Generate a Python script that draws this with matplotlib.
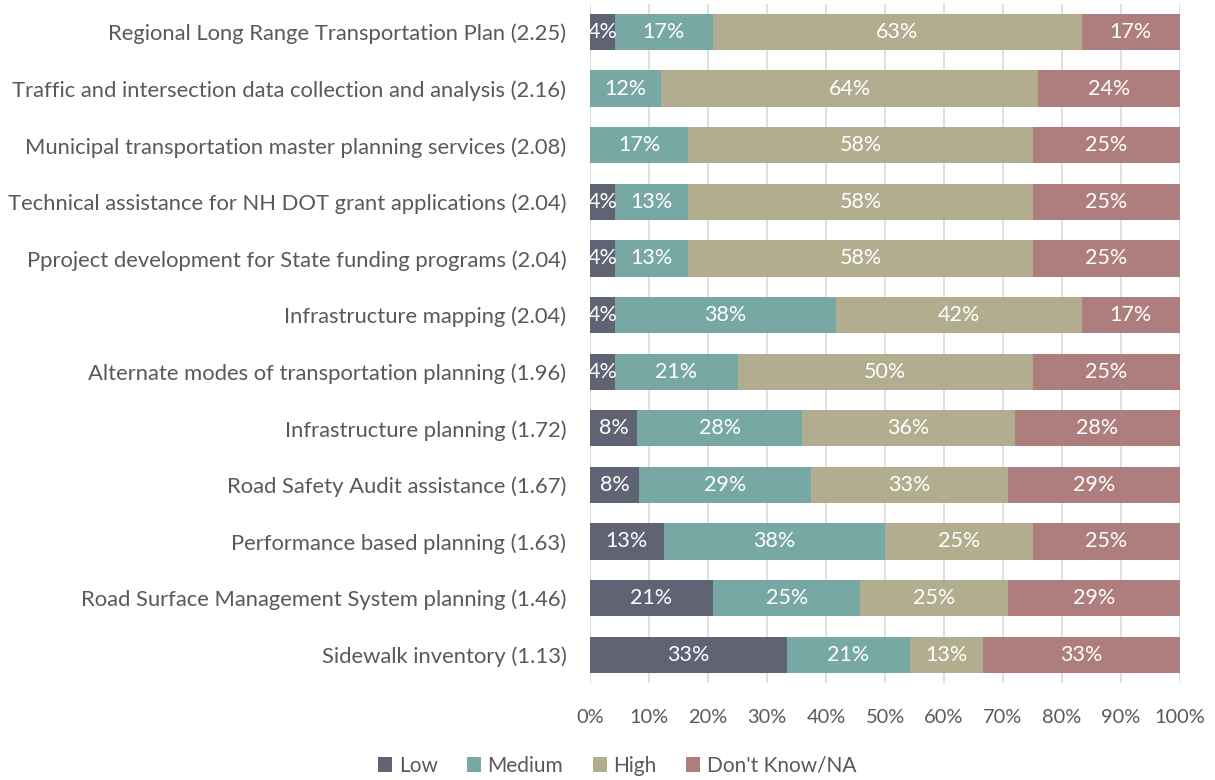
import matplotlib
matplotlib.use("Agg")
import matplotlib.pyplot as plt
import numpy as np

categories = [
    "Regional Long Range Transportation Plan (2.25)",
    "Traffic and intersection data collection and analysis (2.16)",
    "Municipal transportation master planning services (2.08)",
    "Technical assistance for NH DOT grant applications (2.04)",
    "Pproject development for State funding programs (2.04)",
    "Infrastructure mapping (2.04)",
    "Alternate modes of transportation planning (1.96)",
    "Infrastructure planning (1.72)",
    "Road Safety Audit assistance (1.67)",
    "Performance based planning (1.63)",
    "Road Surface Management System planning (1.46)",
    "Sidewalk inventory (1.13)",
]
low = [4.17, 0.0, 0.0, 4.17, 4.17, 4.17, 4.17, 8.0, 8.33, 12.5, 20.83, 33.33]
medium = [16.67, 12.0, 16.67, 12.5, 12.5, 37.5, 20.83, 28.0, 29.17, 37.5, 25.0, 20.83]
high = [62.5, 64.0, 58.33, 58.33, 58.33, 41.67, 50.0, 36.0, 33.33, 25.0, 25.0, 12.5]
dont_know = [16.67, 24.0, 25.0, 25.0, 25.0, 16.67, 25.0, 28.0, 29.17, 25.0, 29.17, 33.33]
series_names = ["Low", "Medium", "High", "Don't Know/NA"]
xticks = [0, 10, 20, 30, 40, 50, 60, 70, 80, 90, 100]

colors = ["#5f6373", "#78a8a3", "#b1ad8e", "#ae7e7e"]
text_color = "#595959"
plt.rcParams['font.family'] = ['Lato', 'DejaVu Sans']

fig = plt.figure(figsize=(12.15, 7.8), dpi=100)
ax = fig.add_axes([590/1215, 1 - 683/780, (1180-590)/1215, (683-3.7)/780])

y = np.arange(len(categories))
left = np.zeros(len(categories))
for name, vals, c in zip(series_names, [low, medium, high, dont_know], colors):
    vals = np.array(vals)
    ax.barh(y, vals, left=left, height=0.64, color=c, label=name, zorder=3)
    for yi, l, v in zip(y, left, vals):
        if v > 0:
            ax.text(l + v / 2, yi, f"{int(v + 0.5)}%", ha="center", va="center",
                    color="white", fontsize=15.5, zorder=4, clip_on=False)
    left += vals

ax.set_ylim(len(categories) - 0.5, -0.5)
ax.set_xlim(0, 100)
ax.set_yticks(y)
ax.set_yticklabels(categories, fontsize=15.8, color=text_color)
ax.set_xticks(xticks)
ax.set_xticklabels([f"{t}%" for t in xticks], fontsize=14.4, color=text_color)
ax.tick_params(axis="both", length=0)
ax.tick_params(axis="y", pad=17)
ax.tick_params(axis="x", pad=19)
ax.grid(axis="x", color="#d9d9d9", linewidth=1.2, zorder=0)
for s in ax.spines.values():
    s.set_visible(False)

leg = fig.legend(loc="center", bbox_to_anchor=(617/1215, 1 - 766/780), ncol=4,
                 frameon=False, fontsize=15, handlelength=0.7, handleheight=0.7,
                 handletextpad=0.3, columnspacing=1.4)
for t in leg.get_texts():
    t.set_color(text_color)

fig.savefig("out.png", dpi=100)
